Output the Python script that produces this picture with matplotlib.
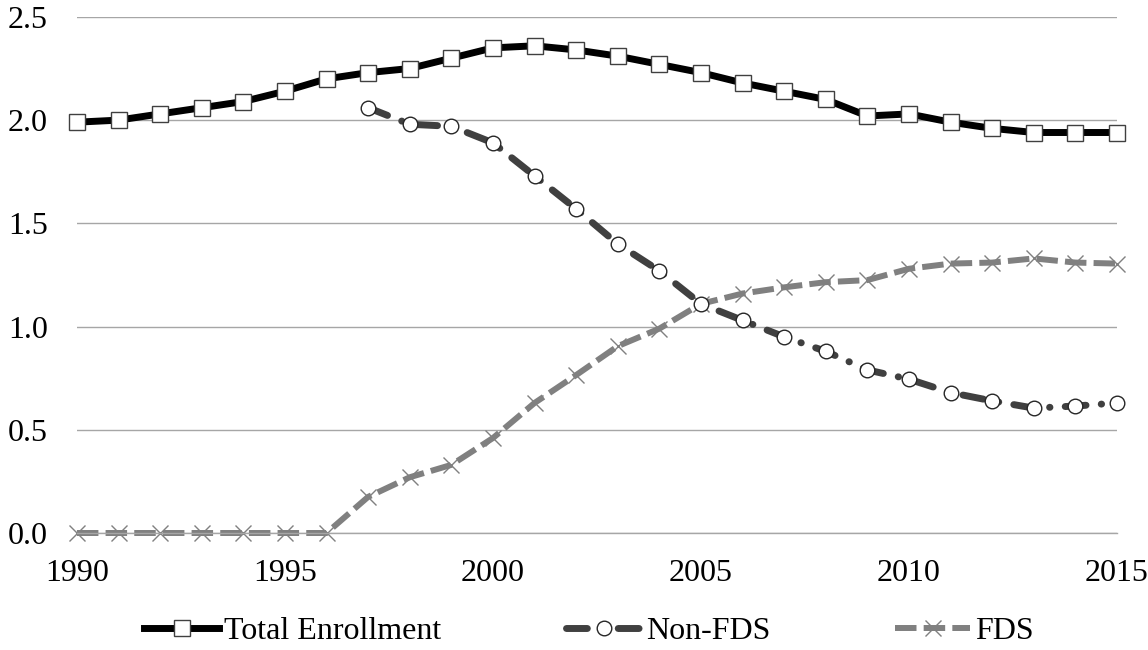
import matplotlib
matplotlib.use("Agg")
import matplotlib.pyplot as plt

plt.rcParams['font.family'] = ['Liberation Serif', 'DejaVu Serif']

years = list(range(1990, 2016))
total = [1.99, 2.00, 2.03, 2.06, 2.09, 2.14, 2.20, 2.23, 2.25, 2.30,
         2.35, 2.36, 2.34, 2.31, 2.27, 2.23, 2.18, 2.14, 2.10, 2.02,
         2.03, 1.99, 1.96, 1.94, 1.94, 1.94]
nonfds_years = list(range(1997, 2016))
nonfds = [2.06, 1.98, 1.97, 1.89, 1.73, 1.57, 1.40, 1.27, 1.11, 1.03,
          0.95, 0.88, 0.79, 0.745, 0.68, 0.64, 0.605, 0.615, 0.63]
fds = [0, 0, 0, 0, 0, 0, 0, 0.175, 0.27, 0.33,
       0.46, 0.63, 0.765, 0.905, 0.99, 1.11, 1.16, 1.19, 1.215, 1.225,
       1.28, 1.305, 1.31, 1.33, 1.31, 1.305]
yticks = [0.0, 0.5, 1.0, 1.5, 2.0, 2.5]
xticks = [1990, 1995, 2000, 2005, 2010, 2015]

fig = plt.figure(figsize=(11.48, 6.5), dpi=100)
ax = fig.add_axes([0.067, 0.18, 0.906, 0.794])

ax.plot(years, total, color='black', lw=5, solid_joinstyle='round',
        marker='s', markersize=11.5, markerfacecolor='white',
        markeredgecolor='#404040', markeredgewidth=1.0,
        label='Total Enrollment', clip_on=False, zorder=3)
ax.plot(nonfds_years, nonfds, color='#404040', lw=5,
        linestyle=(0, (3, 2.2, 0.05, 2.2)), dash_capstyle='round',
        marker='o', markersize=10.5, markerfacecolor='white',
        markeredgecolor='#262626', markeredgewidth=1.0,
        label='Non-FDS', clip_on=False, zorder=4)
ax.plot(years, fds, color='#808080', lw=4.3,
        linestyle=(0, (3.6, 1.2)), dash_capstyle='butt',
        marker='x', markersize=11, markeredgecolor='#808080',
        markeredgewidth=1.0,
        label='FDS', clip_on=False, zorder=2)

ax.set_xlim(1990, 2015)
ax.set_ylim(0, 2.5)
ax.set_yticks(yticks)
ax.set_yticklabels([f"{v:.1f}" for v in yticks])
ax.set_xticks(xticks)
ax.set_xticklabels([str(x) for x in xticks])
ax.tick_params(axis='both', length=0, labelsize=23)
ax.tick_params(axis='y', pad=21)
ax.tick_params(axis='x', pad=19)
ax.grid(axis='y', color='#a6a6a6', lw=1.0)
ax.set_axisbelow(True)
for s in ['top', 'right', 'left']:
    ax.spines[s].set_visible(False)
ax.spines['bottom'].set_color('#a6a6a6')
ax.spines['bottom'].set_linewidth(1.0)

fig.legend(loc='center', bbox_to_anchor=(589 / 1148, 0.029), ncol=3,
           frameon=False, fontsize=23, handlelength=2.35,
           handletextpad=0.16, columnspacing=3.9, numpoints=1,
           borderpad=0, borderaxespad=0)

fig.savefig('out.png', dpi=100)
